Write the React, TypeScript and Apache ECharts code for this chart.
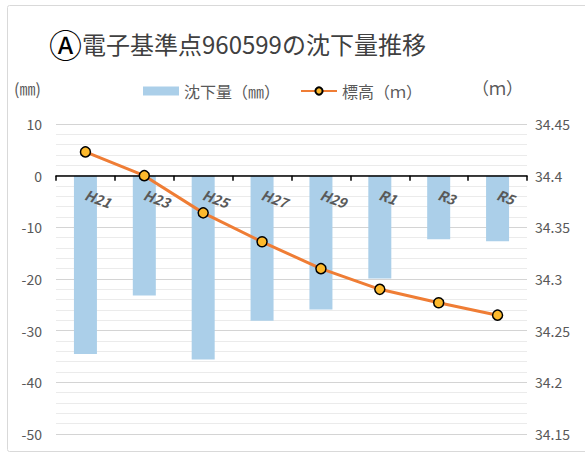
import React, { useEffect, useRef } from "react";
import * as echarts from "echarts";

const categories = ["H21", "H23", "H25", "H27", "H29", "R1", "R3", "R5"];
const subsidence = [-34.5, -23.2, -35.6, -28.1, -25.9, -19.9, -12.3, -12.7];
const elevation = [34.423, 34.4, 34.364, 34.336, 34.31, 34.29, 34.277, 34.265];
const titleText = "電子基準点960599の沈下量推移";
const barName = "沈下量（㎜）";
const lineName = "標高（ｍ）";

const FONT = "'Noto Sans CJK JP', 'Noto Sans', sans-serif";

const GRID_TOP = 124;
const GRID_BOTTOM = 19;
const CHART_H = 453;
const Y_MIN = -50;
const Y_MAX = 10;
// distance from the grid's bottom edge up to the zero line
const zeroOffset = -((CHART_H - GRID_TOP - GRID_BOTTOM) * (0 - Y_MIN)) / (Y_MAX - Y_MIN);

export default function App() {
  const ref = useRef<HTMLDivElement>(null);
  useEffect(() => {
    if (!ref.current) return;
    const chart = echarts.init(ref.current, undefined, { renderer: "svg" });
    chart.setOption({
      animation: false,
      backgroundColor: "#ffffff",
      textStyle: { fontFamily: FONT },
      graphic: [
        {
          type: "rect",
          shape: { x: 7.5, y: 5.5, width: 600, height: 446, r: 2 },
          style: { fill: "none", stroke: "#d9d9d9", lineWidth: 1 },
          z: -1,
        },
        {
          type: "text",
          x: 14,
          y: 80,
          style: { text: "(㎜)", fill: "#595959", fontSize: 16, fontFamily: FONT },
        },
        {
          type: "text",
          x: 472,
          y: 79,
          style: { text: "（ｍ）", fill: "#595959", fontSize: 17, fontFamily: FONT },
        },
      ],
      title: {
        text: "{a|Ⓐ}{b|" + titleText + "}",
        left: 44,
        top: 22,
        textStyle: {
          rich: {
            a: { fontSize: 33, fontWeight: "normal", color: "#000000", fontFamily: FONT },
            b: { fontSize: 24, fontWeight: "normal", color: "#404040", fontFamily: FONT },
          },
        },
      },
      legend: {
        left: 138,
        top: 78,
        itemGap: 20,
        itemWidth: 36,
        itemHeight: 9,
        textStyle: { color: "#595959", fontSize: 16, fontFamily: FONT },
        data: [
          { name: barName, icon: "rect" },
          { name: lineName },
        ],
      },
      grid: { left: 56, right: 58, top: GRID_TOP, bottom: GRID_BOTTOM, containLabel: false },
      xAxis: {
        type: "category",
        data: categories,
        offset: zeroOffset,
        axisLine: { onZero: false, lineStyle: { color: "#000000", width: 1.5 } },
        axisTick: { show: true, length: 5, lineStyle: { color: "#000000", width: 1.5 } },
        axisLabel: {
          rotate: -20,
          margin: 18,
          color: "#595959",
          fontSize: 14,
          fontStyle: "italic",
          fontWeight: "bold",
          fontFamily: FONT,
        },
        splitLine: { show: false },
        z: 5,
      },
      yAxis: [
        {
          type: "value",
          min: Y_MIN,
          max: Y_MAX,
          interval: 10,
          axisLine: { show: false },
          axisTick: { show: false },
          axisLabel: { color: "#595959", fontSize: 14, margin: 14, fontFamily: FONT },
          splitLine: { show: true, lineStyle: { color: "#d4d4d4", width: 1 } },
          minorTick: { show: false, splitNumber: 5 },
          minorSplitLine: { show: true, lineStyle: { color: "#ebebeb", width: 1 } },
        },
        {
          type: "value",
          min: 34.15,
          max: 34.45,
          interval: 0.05,
          alignTicks: false,
          axisLine: { show: false },
          axisTick: { show: false },
          axisLabel: {
            color: "#595959",
            fontSize: 14,
            margin: 8,
            fontFamily: FONT,
            formatter: (v: number) => String(+v.toFixed(2)),
          },
          splitLine: { show: false },
        },
      ],
      series: [
        {
          name: barName,
          type: "bar",
          data: subsidence,
          barWidth: 23,
          itemStyle: { color: "#abcfe9" },
          z: 1,
        },
        {
          name: lineName,
          type: "line",
          yAxisIndex: 1,
          data: elevation,
          symbol: "circle",
          symbolSize: 10,
          lineStyle: { color: "#ef7d35", width: 3 },
          itemStyle: { color: "#fdb92c", borderColor: "#000000", borderWidth: 1.5 },
          z: 10,
        },
      ],
    });
    return () => chart.dispose();
  }, []);
  return (
    <div
      ref={ref}
      style={{ position: "fixed", left: 0, top: 0, width: 585, height: 453 }}
    />
  );
}
